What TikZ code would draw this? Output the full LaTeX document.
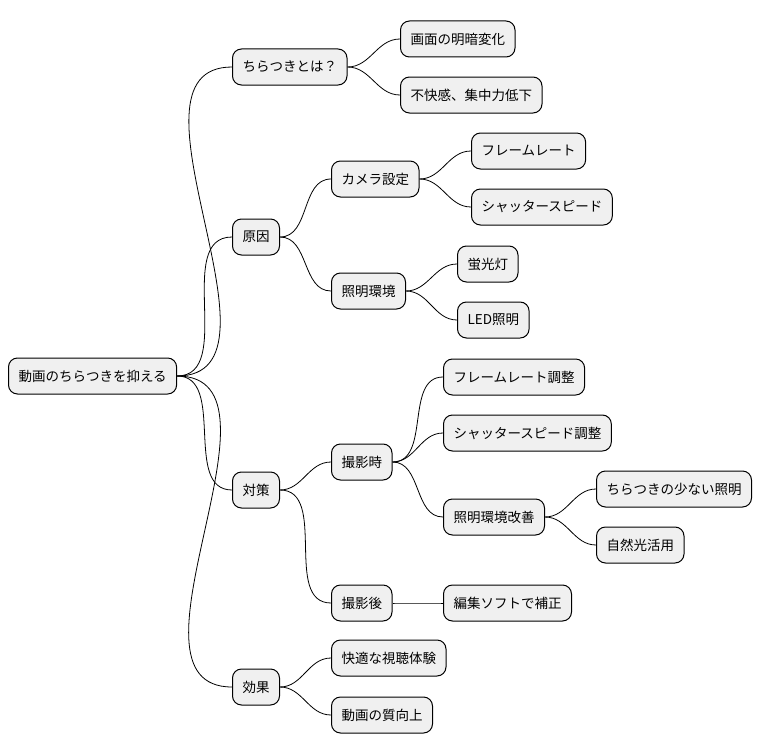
\documentclass[tikz,border=0pt]{standalone}
\usepackage{fontspec}
\setmainfont{Noto Sans CJK JP}
\begin{document}
\begin{tikzpicture}[x=1pt,y=-1pt,
    topic/.style={draw, rounded corners=9pt, fill=black!6, line width=1pt,
        minimum height=36pt, inner xsep=10pt, anchor=west, font=\fontsize{13.5}{16}\selectfont},
    branch/.style={line width=0.8pt}]
    \useasboundingbox (0,0) rectangle (768,752);
    % Define nodes
    \node[topic] (root) at (8,376) {動画のちらつきを抑える};
    \node[topic] (what) at (232,67) {ちらつきとは？};
    \node[topic] (what1) at (400,39) {画面の明暗変化};
    \node[topic] (what2) at (400,95) {不快感、集中力低下};
    \node[topic] (cause) at (232,237) {原因};
    \node[topic] (cam) at (331,179) {カメラ設定};
    \node[topic] (cam1) at (471,151) {フレームレート};
    \node[topic] (cam2) at (471,207) {シャッタースピード};
    \node[topic] (light) at (331,291) {照明環境};
    \node[topic] (light1) at (457,264) {蛍光灯};
    \node[topic] (light2) at (457,320) {LED照明};
    \node[topic] (fix) at (232,490) {対策};
    \node[topic] (shoot) at (331,462) {撮影時};
    \node[topic] (shoot1) at (443,377) {フレームレート調整};
    \node[topic] (shoot2) at (443,433) {シャッタースピード調整};
    \node[topic] (shoot3) at (443,517) {照明環境改善};
    \node[topic] (shoot31) at (596,489) {ちらつきの少ない照明};
    \node[topic] (shoot32) at (596,545) {自然光活用};
    \node[topic] (post) at (331,603) {撮影後};
    \node[topic] (post1) at (443,603) {編集ソフトで補正};
    \node[topic] (effect) at (232,687) {効果};
    \node[topic] (eff1) at (331,658) {快適な視聴体験};
    \node[topic] (eff2) at (331,715) {動画の質向上};

    % Draw edges
    \foreach \p/\c in {root/what,root/cause,root/fix,root/effect,
        what/what1,what/what2,cause/cam,cause/light,cam/cam1,cam/cam2,
        light/light1,light/light2,fix/shoot,fix/post,shoot/shoot1,shoot/shoot2,
        shoot/shoot3,shoot3/shoot31,shoot3/shoot32,post/post1,effect/eff1,effect/eff2}
        \draw[branch] (\p.east) to[out=0,in=180] (\c.west);
\end{tikzpicture}
\end{document}
